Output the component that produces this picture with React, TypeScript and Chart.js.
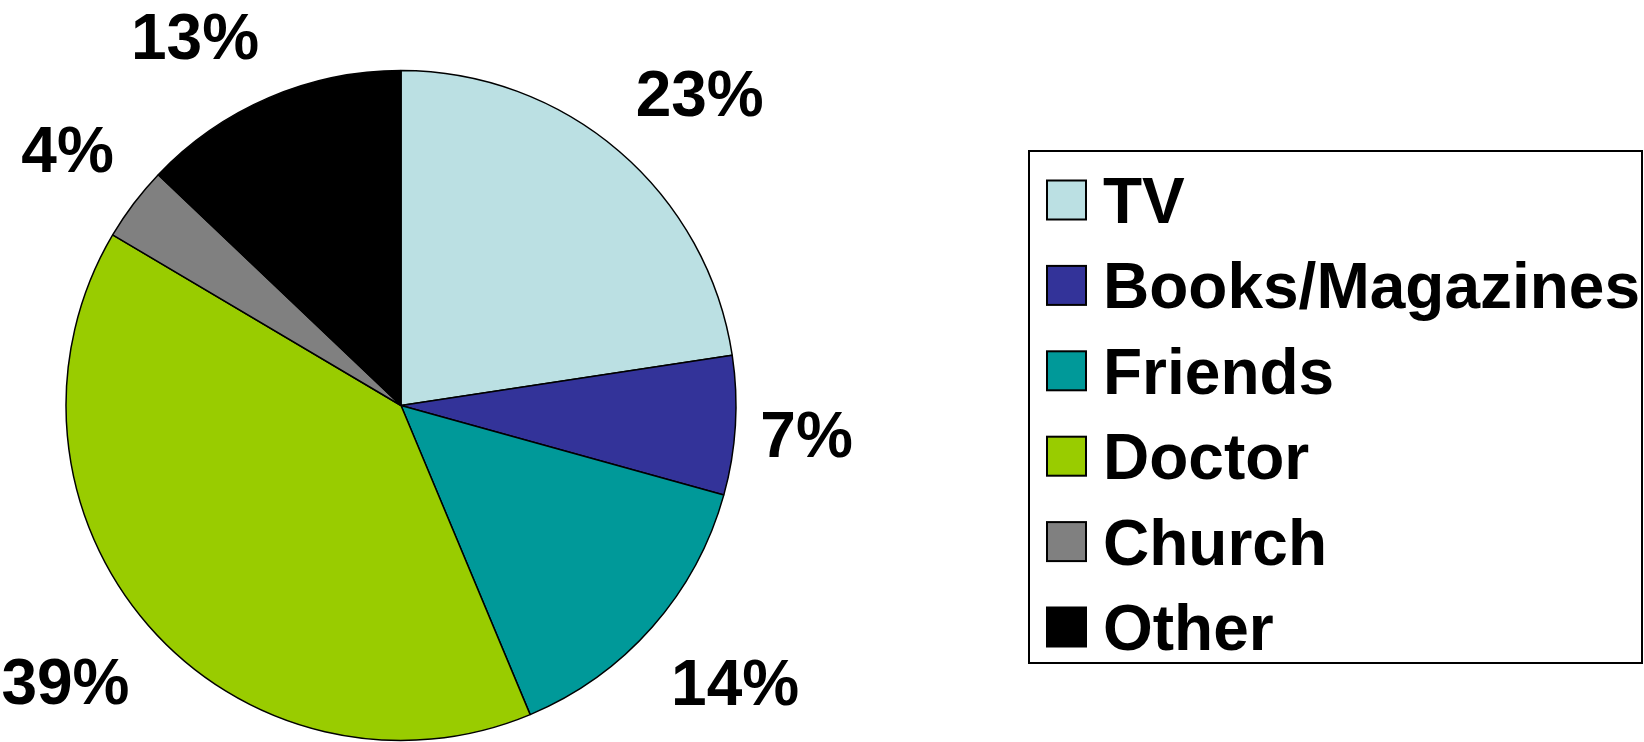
import React, { useEffect, useRef } from "react";
import { Chart, registerables } from "chart.js";

Chart.register(...registerables);

// ---- data ----
const categories = ["TV", "Books/Magazines", "Friends", "Doctor", "Church", "Other"];
const shares = [22.6, 6.7, 14.4, 39.8, 3.6, 12.9];
const shareLabels = ["23%", "7%", "14%", "39%", "4%", "13%"];
const sliceColors = ["#BBE0E3", "#333399", "#009999", "#99CC00", "#808080", "#000000"];

// ---- style / layout ----
const W = 1644;
const H = 742;
const FONT = '"Liberation Sans", Arial, Helvetica, sans-serif';
const FONT_SIZE = 64;
const CAP = 0.716 * FONT_SIZE;
const LABEL_HALF_H = 39;
const PIE_RADIUS = 335;
const LABEL_GAP = 25;
const LEGEND = { left: 1029, top: 151, right: 1642, bottom: 663, swatchX: 1047, swatch: 39, textX: 1103, firstRow: 200, rowStep: 85.4 };

const labelPlugin = {
  id: "outsideLabels",
  afterDatasetsDraw(chart: any) {
    const ctx = chart.ctx;
    const meta = chart.getDatasetMeta(0);
    ctx.save();
    ctx.font = `bold ${FONT_SIZE}px ${FONT}`;
    ctx.fillStyle = "#000";
    ctx.textAlign = "center";
    ctx.textBaseline = "alphabetic";
    meta.data.forEach((arc: any, i: number) => {
      const p = arc.getProps(["x", "y", "startAngle", "endAngle", "outerRadius"], true);
      const mid = (p.startAngle + p.endAngle) / 2;
      const dx = Math.cos(mid);
      const dy = Math.sin(mid);
      const text = shareLabels[i];
      const w = ctx.measureText(text).width;
      const R = p.outerRadius + LABEL_GAP;
      const sx = Math.max(-1, Math.min(1, dx * 3));
      const sy = Math.max(-1, Math.min(1, dy * 3));
      const cx = p.x + dx * R + (sx * w) / 2;
      const cy = p.y + dy * R + sy * LABEL_HALF_H;
      ctx.fillText(text, cx, cy + CAP / 2);
    });
    ctx.restore();
  },
};

const legendPlugin = {
  id: "boxLegend",
  afterDraw(chart: any) {
    const ctx = chart.ctx;
    const labels = chart.data.labels as string[];
    const colors = chart.data.datasets[0].backgroundColor as string[];
    ctx.save();
    ctx.fillStyle = "#fff";
    ctx.fillRect(LEGEND.left, LEGEND.top, LEGEND.right - LEGEND.left, LEGEND.bottom - LEGEND.top);
    ctx.strokeStyle = "#000";
    ctx.lineWidth = 2;
    ctx.strokeRect(LEGEND.left, LEGEND.top, LEGEND.right - LEGEND.left, LEGEND.bottom - LEGEND.top);
    ctx.font = `bold ${FONT_SIZE}px ${FONT}`;
    ctx.textAlign = "left";
    ctx.textBaseline = "alphabetic";
    labels.forEach((lab, i) => {
      const cy = LEGEND.firstRow + i * LEGEND.rowStep;
      ctx.fillStyle = colors[i];
      ctx.fillRect(LEGEND.swatchX, cy - LEGEND.swatch / 2, LEGEND.swatch, LEGEND.swatch);
      ctx.lineWidth = 2;
      ctx.strokeStyle = "#000";
      ctx.strokeRect(LEGEND.swatchX, cy - LEGEND.swatch / 2, LEGEND.swatch, LEGEND.swatch);
      ctx.fillStyle = "#000";
      ctx.fillText(lab, LEGEND.textX, cy + CAP / 2);
    });
    ctx.restore();
  },
};

export default function App() {
  const ref = useRef<HTMLCanvasElement | null>(null);
  useEffect(() => {
    let chart: Chart | null = null;
    let cancelled = false;
    const make = () => {
      if (cancelled || !ref.current) return;
      chart = new Chart(ref.current, {
        type: "pie",
        data: {
          labels: categories,
          datasets: [
            {
              data: shares,
              backgroundColor: sliceColors,
              borderColor: "#000",
              borderWidth: 1.5,
            },
          ],
        },
        options: {
          animation: false,
          responsive: false,
          devicePixelRatio: 1,
          radius: PIE_RADIUS,
          layout: { padding: { left: 0, right: W - 802, top: 69, bottom: 0 } },
          plugins: {
            legend: { display: false },
            tooltip: { enabled: false },
          },
        } as any,
        plugins: [labelPlugin, legendPlugin],
      });
    };
    const fonts = (document as any).fonts;
    if (fonts && fonts.load) {
      fonts.load(`bold ${FONT_SIZE}px "Liberation Sans"`).then(make, make);
    } else {
      make();
    }
    return () => {
      cancelled = true;
      if (chart) chart.destroy();
    };
  }, []);
  return (
    <div style={{ position: "absolute", left: 0, top: 0, width: W, height: H, background: "#fff" }}>
      <canvas ref={ref} width={W} height={H} style={{ width: W, height: H, display: "block" }} />
    </div>
  );
}
